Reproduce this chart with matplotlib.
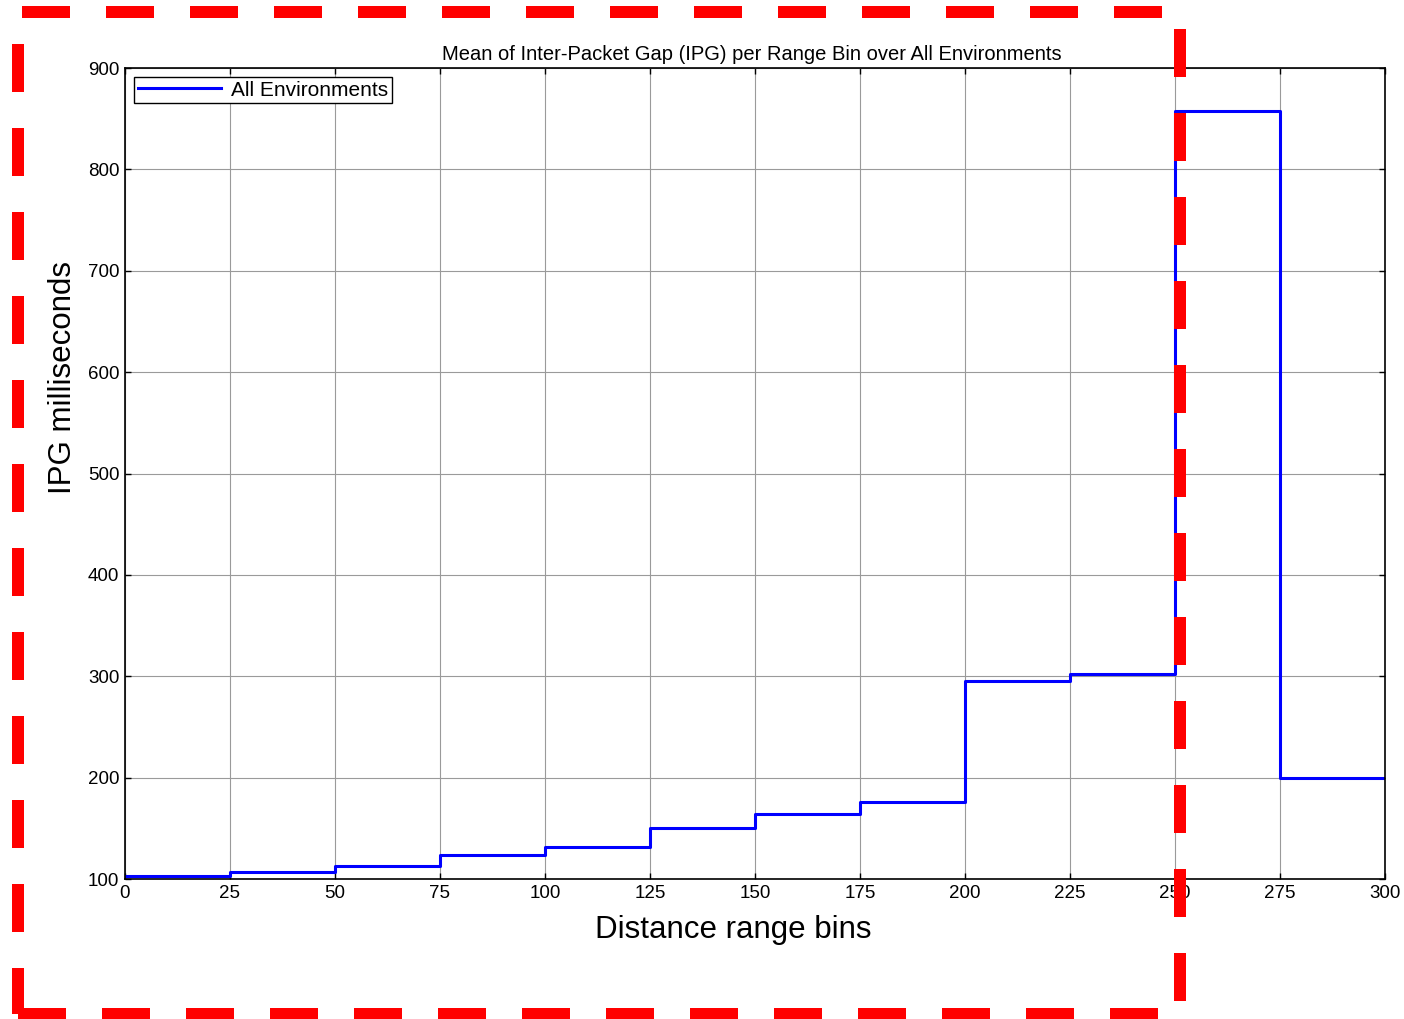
import matplotlib
matplotlib.use("Agg")
import matplotlib.pyplot as plt
from matplotlib.lines import Line2D

# Limites de los bins de distancia y media del IPG (ms) en cada bin
bordes = [0, 25, 50, 75, 100, 125, 150, 175, 200, 225, 250, 275, 300]
ipg_medio = [103, 107, 113, 124, 132, 150, 164, 176, 295, 302, 858, 200]

xticks = [0, 25, 50, 75, 100, 125, 150, 175, 200, 225, 250, 275, 300]
yticks = [100, 200, 300, 400, 500, 600, 700, 800, 900]

plt.rcParams['font.family'] = ['Liberation Sans', 'DejaVu Sans']

W, H = 1404, 1019
fig = plt.figure(figsize=(W / 100, H / 100), dpi=100)
ax = fig.add_axes([125 / W, (H - 879) / H, 1260 / W, 811 / H])

# Escalones como en stairs() de MATLAB (el ultimo valor se repite hasta 300)
ax.step(bordes, ipg_medio + [ipg_medio[-1]], where='post', color='#0000ff',
        linewidth=2.2, label='All Environments')

ax.set_xlim(0, 300)
ax.set_ylim(100, 900)
ax.set_xticks(xticks)
ax.set_yticks(yticks)
ax.tick_params(direction='in', length=4, width=1, top=True, right=True,
               labelsize=13.5, pad=4)
ax.grid(True, color='#9a9a9a', linewidth=0.8)
for s in ax.spines.values():
    s.set_linewidth(1.2)

ax.set_title('Mean of Inter-Packet Gap (IPG) per Range Bin over All Environments',
             fontsize=14.5, pad=6, x=(752 - 125) / 1260)
ax.set_xlabel('Distance range bins', fontsize=22.5)
ax.xaxis.set_label_coords((733 - 125) / 1260, -(915 - 879) / 811)
ax.set_ylabel('IPG milliseconds', fontsize=22.5)
ax.yaxis.set_label_coords(-(125 - 78) / 1260, (879 - 378) / 811)

leg = ax.legend(loc='upper left', fontsize=15, fancybox=False,
                edgecolor='black', framealpha=1, handlelength=4.0,
                borderaxespad=0.45, borderpad=0.15, handletextpad=0.5)
leg.get_frame().set_linewidth(1.0)

# Recuadro rojo discontinuo (coordenadas en pixeles de la figura)
def trazo(x0, y0, x1, y1):
    fig.add_artist(Line2D([x0 / W, x1 / W], [1 - y0 / H, 1 - y1 / H],
                          transform=fig.transFigure, color='#ff0000',
                          linewidth=8.64, dashes=(4, 3),
                          solid_capstyle='butt', dash_capstyle='butt'))

trazo(22, 12, 1162, 12)
trazo(18, 44, 18, 1014)
trazo(1180, 29, 1180, 1001)
trazo(18, 1014, 1158, 1014)

fig.savefig('out.png', dpi=100)
